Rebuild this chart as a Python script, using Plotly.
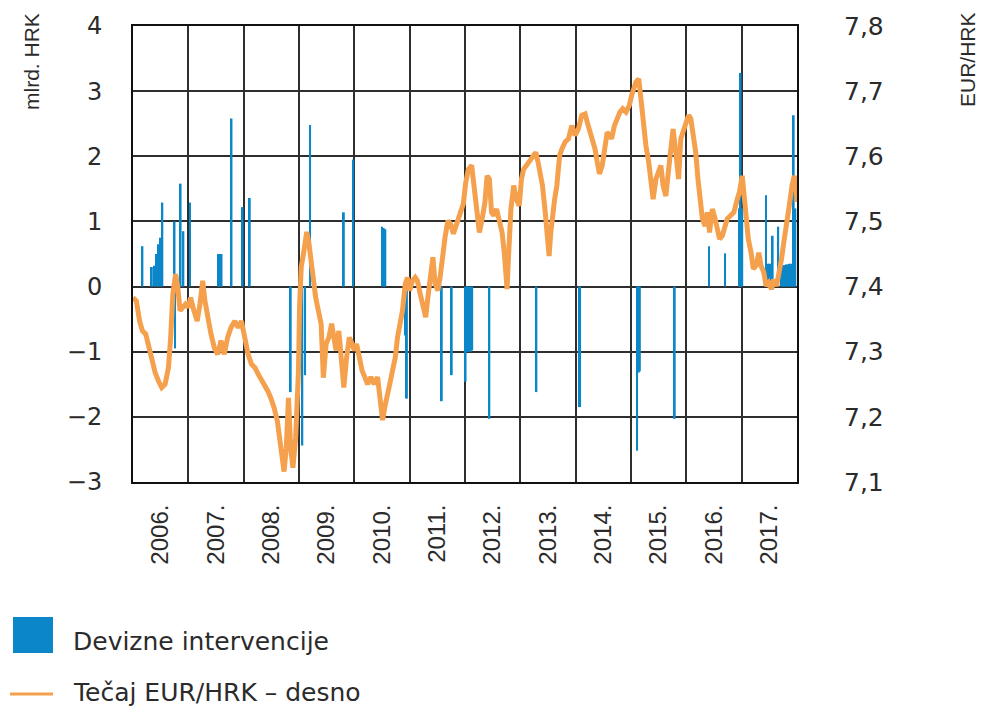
import plotly.graph_objects as go

# ---- Exchange rate EUR/HRK (right axis) ----
rate_dates = [
    2006.00, 2006.06, 2006.12, 2006.17, 2006.23, 2006.29, 2006.35, 2006.40, 2006.46, 2006.52,
    2006.58, 2006.64, 2006.68, 2006.72, 2006.77, 2006.81, 2006.85, 2006.90, 2006.95,
    2007.00, 2007.04, 2007.10, 2007.16, 2007.21, 2007.26, 2007.30, 2007.35, 2007.41, 2007.47,
    2007.53, 2007.59, 2007.65, 2007.71, 2007.77, 2007.84, 2007.90, 2007.96,
    2008.02, 2008.08, 2008.14, 2008.20, 2008.26, 2008.32, 2008.38, 2008.44, 2008.49, 2008.55,
    2008.61, 2008.65, 2008.69, 2008.73, 2008.77, 2008.81, 2008.85, 2008.89, 2008.94, 2008.99,
    2009.01, 2009.04, 2009.09, 2009.14, 2009.18, 2009.22, 2009.26, 2009.30, 2009.35, 2009.40,
    2009.44, 2009.49, 2009.54, 2009.59, 2009.63, 2009.67, 2009.72, 2009.77, 2009.81, 2009.86,
    2009.91, 2009.96,
    2010.00, 2010.04, 2010.09, 2010.14, 2010.19, 2010.24, 2010.30, 2010.36, 2010.42, 2010.46,
    2010.51, 2010.56, 2010.60, 2010.64, 2010.69, 2010.74, 2010.78, 2010.82, 2010.87, 2010.92,
    2010.96,
    2011.00, 2011.05, 2011.10, 2011.14, 2011.19, 2011.24, 2011.29, 2011.33, 2011.38, 2011.42,
    2011.46, 2011.51, 2011.55, 2011.60, 2011.64, 2011.69, 2011.74, 2011.79, 2011.83, 2011.88,
    2011.93, 2011.97,
    2012.01, 2012.06, 2012.12, 2012.17, 2012.22, 2012.26, 2012.31, 2012.36, 2012.40, 2012.44,
    2012.48, 2012.52, 2012.57, 2012.62, 2012.67, 2012.71, 2012.74, 2012.76, 2012.79, 2012.83,
    2012.88, 2012.93, 2012.98,
    2013.02, 2013.06, 2013.11, 2013.15, 2013.19, 2013.24, 2013.28, 2013.32, 2013.36, 2013.40,
    2013.45, 2013.49, 2013.52, 2013.55, 2013.58, 2013.62, 2013.66, 2013.71, 2013.75, 2013.81,
    2013.87, 2013.93, 2013.99,
    2014.05, 2014.11, 2014.17, 2014.21, 2014.26, 2014.30, 2014.35, 2014.39, 2014.43, 2014.48,
    2014.52, 2014.57, 2014.61, 2014.65, 2014.70, 2014.75, 2014.80, 2014.85, 2014.91, 2014.97,
    2015.01, 2015.09, 2015.14, 2015.18, 2015.22, 2015.27, 2015.32, 2015.36, 2015.40, 2015.45,
    2015.50, 2015.54, 2015.58, 2015.63, 2015.68, 2015.72, 2015.76, 2015.81, 2015.86, 2015.90,
    2015.94, 2015.99,
    2016.04, 2016.08, 2016.12, 2016.17, 2016.21, 2016.25, 2016.29, 2016.34, 2016.38, 2016.42,
    2016.47, 2016.52, 2016.56, 2016.60, 2016.65, 2016.70, 2016.74, 2016.80, 2016.86, 2016.92,
    2016.96,
    2017.01, 2017.05, 2017.09, 2017.12, 2017.17, 2017.21, 2017.26, 2017.31, 2017.35, 2017.40,
    2017.44, 2017.49, 2017.54, 2017.58, 2017.63, 2017.68, 2017.72, 2017.77, 2017.81, 2017.86,
    2017.91, 2017.95, 2017.99, 2018.00,
]
rate_values = [
    7.383, 7.378, 7.347, 7.332, 7.327, 7.306, 7.286, 7.268, 7.255, 7.245,
    7.250, 7.275, 7.321, 7.388, 7.419, 7.399, 7.363, 7.368, 7.373,
    7.368, 7.383, 7.363, 7.347, 7.373, 7.409, 7.378, 7.353, 7.327, 7.306,
    7.296, 7.317, 7.296, 7.322, 7.337, 7.347, 7.337, 7.347,
    7.316, 7.296, 7.281, 7.276, 7.266, 7.258, 7.247, 7.239, 7.229, 7.214,
    7.193, 7.168, 7.132, 7.116, 7.152, 7.229, 7.152, 7.122, 7.168, 7.270,
    7.368, 7.430, 7.455, 7.484, 7.466, 7.440, 7.404, 7.384, 7.363, 7.343,
    7.260, 7.312, 7.322, 7.343, 7.322, 7.302, 7.332, 7.281, 7.245, 7.291,
    7.322, 7.312,
    7.302, 7.312, 7.291, 7.271, 7.261, 7.250, 7.261, 7.250, 7.261, 7.235,
    7.195, 7.219, 7.240, 7.250, 7.271, 7.291, 7.322, 7.337, 7.363, 7.404,
    7.414,
    7.394, 7.409, 7.414, 7.409, 7.389, 7.368, 7.353, 7.384, 7.414, 7.445,
    7.404, 7.394, 7.414, 7.455, 7.476, 7.501, 7.496, 7.481, 7.491, 7.501,
    7.512, 7.527,
    7.558, 7.580, 7.586, 7.545, 7.514, 7.483, 7.504, 7.529, 7.570, 7.565,
    7.514, 7.509, 7.519, 7.504, 7.483, 7.452, 7.416, 7.396, 7.452, 7.519,
    7.555, 7.534, 7.524,
    7.565, 7.580, 7.586, 7.591, 7.596, 7.601, 7.606, 7.591, 7.575, 7.555,
    7.514, 7.473, 7.447, 7.483, 7.514, 7.534, 7.555, 7.601, 7.611, 7.622,
    7.627, 7.647, 7.632,
    7.642, 7.663, 7.665, 7.652, 7.637, 7.627, 7.611, 7.591, 7.573, 7.586,
    7.611, 7.637, 7.632, 7.627, 7.647, 7.657, 7.668, 7.673, 7.668, 7.678,
    7.693, 7.714, 7.719, 7.688, 7.647, 7.616, 7.591, 7.555, 7.534, 7.565,
    7.575, 7.586, 7.555, 7.539, 7.580, 7.616, 7.642, 7.606, 7.565, 7.627,
    7.637, 7.647,
    7.663, 7.658, 7.637, 7.606, 7.565, 7.524, 7.504, 7.493, 7.514, 7.483,
    7.519, 7.504, 7.483, 7.473, 7.478, 7.493, 7.504, 7.509, 7.514, 7.534,
    7.545,
    7.570, 7.534, 7.504, 7.473, 7.452, 7.427, 7.432, 7.452, 7.432, 7.422,
    7.401, 7.406, 7.396, 7.411, 7.401, 7.422, 7.442, 7.473, 7.493, 7.524,
    7.555, 7.570, 7.545, 7.530,
]

# ---- FX interventions, bn HRK (left axis) ----
iv_dates = [
    2006.17, 2006.34, 2006.38, 2006.42, 2006.46, 2006.50, 2006.53, 2006.75, 2006.76, 2006.86,
    2006.91, 2007.03, 2007.54, 2007.57, 2007.60, 2007.78, 2007.98, 2008.11, 2008.85, 2009.06,
    2009.11, 2009.20, 2009.81, 2009.98, 2010.50, 2010.53, 2010.56, 2010.92, 2010.95, 2011.58,
    2011.76, 2012.01, 2012.04, 2012.07, 2012.10, 2012.13, 2012.44, 2013.29, 2014.06, 2014.08,
    2015.11, 2015.14, 2015.16, 2015.79, 2016.41, 2016.70, 2016.96, 2016.98, 2017.01, 2017.44,
    2017.48, 2017.51, 2017.54, 2017.56, 2017.66, 2017.72, 2017.75, 2017.78, 2017.81, 2017.84,
    2017.87, 2017.90, 2017.94, 2017.97,
]
iv_values = [
    0.62, 0.30, 0.32, 0.50, 0.65, 0.75, 1.29, 1.00, -0.95, 1.58,
    0.85, 1.29, 0.50, 0.50, 0.50, 2.58, 1.22, 1.36, -1.62, -2.44,
    -1.36, 2.48, 1.14, 1.95, 0.92, 0.90, 0.88, -0.75, -1.72, -1.76,
    -1.36, -1.46, -1.00, -1.00, -1.00, -0.98, -2.03, -1.62, -1.85, -1.85,
    -2.52, -1.32, -1.30, -2.03, 0.62, 0.51, 1.20, 3.28, 1.20, 1.40,
    0.35, 0.35, 0.35, 0.78, 0.92, 0.30, 0.32, 0.33, 0.34, 0.34,
    0.35, 0.35, 2.63, 1.20,
]

years = list(range(2006, 2018))
year_labels = [f"{y}." for y in years]
left_ticks = [4, 3, 2, 1, 0, -1, -2, -3]
left_labels = ["4", "3", "2", "1", "0", "\u22121", "\u22122", "\u22123"]
right_ticks = [7.8, 7.7, 7.6, 7.5, 7.4, 7.3, 7.2, 7.1]
right_labels = ["7,8", "7,7", "7,6", "7,5", "7,4", "7,3", "7,2", "7,1"]

BLUE = "#0a86c9"
ORANGE = "#f5a04c"
GRID = "#2e2e2e"
TXT = "#2b2b2b"

fig = go.Figure()
fig.add_trace(go.Bar(x=iv_dates, y=iv_values, width=0.035,
                     marker=dict(color=BLUE, line=dict(width=0)),
                     name="Devizne intervencije"))
fig.add_trace(go.Scatter(x=rate_dates, y=rate_values, yaxis="y2", mode="lines",
                         line=dict(color=ORANGE, width=5),
                         name="Tečaj EUR/HRK – desno"))

W, H = 988, 711
L, R, T, B = 133, 797, 26, 482
pw, ph = R - L, B - T


def px(x):
    return (x - L) / pw


def py(y):
    return (B - y) / ph


fig.update_layout(
    width=W, height=H,
    margin=dict(l=L, r=W - R, t=T, b=H - B, autoexpand=False),
    paper_bgcolor="white", plot_bgcolor="white",
    showlegend=False, barmode="overlay",
    font=dict(family="Liberation Sans, Arial, sans-serif", color=TXT),
    xaxis=dict(
        range=[2006, 2018], automargin=False,
        tickmode="array", tickvals=[y + 0.5 for y in years], ticktext=year_labels,
        tickangle=-90, ticks="", showgrid=False, zeroline=False,
        tickfont=dict(size=24, family="Liberation Sans, Arial", color=TXT),
        ticklabelstandoff=11,
        minor=dict(tick0=2006, dtick=1, showgrid=True, gridcolor=GRID, gridwidth=2, ticks=""),
        showline=True, linecolor="#111", linewidth=2, mirror=True,
    ),
    yaxis=dict(
        range=[-3, 4], automargin=False,
        tickmode="array", tickvals=left_ticks, ticktext=left_labels,
        showgrid=True, gridcolor=GRID, gridwidth=2, zeroline=False, ticks="",
        tickfont=dict(size=24, family="DejaVu Sans", color=TXT),
        ticklabelstandoff=24,
        showline=True, linecolor="#111", linewidth=2, mirror=True,
    ),
    yaxis2=dict(
        range=[7.1, 7.8], overlaying="y", side="right", automargin=False,
        tickmode="array", tickvals=right_ticks, ticktext=right_labels,
        showgrid=False, zeroline=False, ticks="",
        tickfont=dict(size=25, family="DejaVu Sans", color=TXT),
        ticklabelstandoff=46,
        showline=False,
    ),
    annotations=[
        dict(text="mlrd. HRK", xref="paper", yref="paper", x=px(31), y=py(62),
             textangle=-90, showarrow=False, xanchor="center", yanchor="middle",
             font=dict(size=21, family="Liberation Sans", color=TXT)),
        dict(text="EUR/HRK", xref="paper", yref="paper", x=px(967), y=py(60),
             textangle=-90, showarrow=False, xanchor="center", yanchor="middle",
             font=dict(size=21, family="Liberation Sans", color=TXT)),
        dict(text="Devizne intervencije", xref="paper", yref="paper", x=px(71), y=py(641),
             showarrow=False, xanchor="left", yanchor="middle",
             font=dict(size=25, family="DejaVu Sans", color=TXT)),
        dict(text="Tečaj EUR/HRK – desno", xref="paper", yref="paper", x=px(71), y=py(692),
             showarrow=False, xanchor="left", yanchor="middle",
             font=dict(size=25, family="DejaVu Sans", color=TXT)),
    ],
    shapes=[
        dict(type="rect", xref="paper", yref="paper", x0=px(13), x1=px(53),
             y0=py(617), y1=py(653), fillcolor=BLUE, line=dict(width=0)),
        dict(type="line", xref="paper", yref="paper", x0=px(10), x1=px(53),
             y0=py(694), y1=py(694), line=dict(color=ORANGE, width=3)),
    ],
)

fig.write_html("out.html", config={"displayModeBar": False},
               post_script="document.body.style.margin='0px';")
